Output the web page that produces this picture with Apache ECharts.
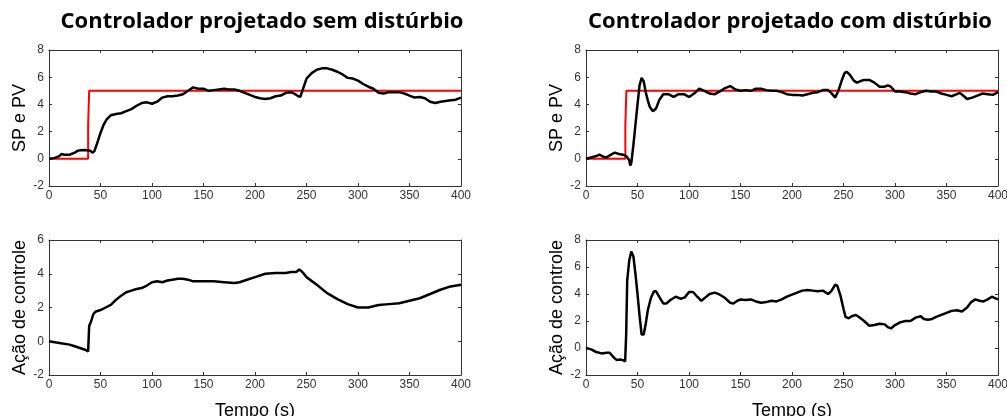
<!DOCTYPE html>
<html>
<head>
<meta charset="utf-8">
<script src="https://cdn.jsdelivr.net/npm/echarts@6/dist/echarts.min.js"></script>
<style>
  html, body { margin: 0; padding: 0; background: #fff; }
  #chart { width: 1007px; height: 416px; }
</style>
</head>
<body>
<div id="chart"></div>
<script>
// Setpoint step (shared shape for both runs)
const spT1 = [0, 38, 38, 39, 39, 400];
const spV1 = [0, 0, 2.5, 2.5, 5, 5];
const spT2 = [0, 38.2, 38.2, 39.2, 39.2, 400];
const spV2 = [0, 0, 2.5, 2.5, 5, 5];

// Process variable, controller without disturbance
const pvT1 = [0,5,10,12,15,20,25,28,30,35,40,42,44,47,50,53,56,60,65,70,75,80,85,90,95,100,105,110,115,120,125,130,135,140,145,150,155,160,165,170,175,180,185,190,195,200,205,210,215,220,225,230,235,238,242,244,246,250,255,260,265,270,275,280,285,290,295,300,305,310,315,320,325,330,335,340,345,350,355,360,365,370,375,380,385,390,395,400];
const pvV1 = [0,0.05,0.2,0.35,0.3,0.3,0.45,0.6,0.62,0.65,0.6,0.45,0.55,1.2,1.9,2.5,2.9,3.2,3.3,3.35,3.5,3.65,3.9,4.1,4.15,4.05,4.2,4.5,4.6,4.6,4.65,4.75,5.0,5.25,5.15,5.15,5.0,5.05,5.1,5.15,5.1,5.1,5.0,4.85,4.7,4.55,4.45,4.4,4.45,4.6,4.65,4.85,4.9,4.8,4.6,4.55,5.0,5.9,6.3,6.55,6.65,6.65,6.55,6.4,6.2,5.95,5.9,5.75,5.5,5.3,5.15,4.85,4.8,4.9,4.9,4.9,4.8,4.65,4.5,4.55,4.45,4.2,4.1,4.2,4.25,4.3,4.35,4.5];

// Control action, controller without disturbance
const uT1 = [0,10,20,25,30,35,38,39,41,43,45,50,55,60,65,70,75,80,85,90,95,100,105,110,115,120,125,130,135,140,150,160,170,180,185,190,200,210,220,230,235,240,243,246,250,260,270,280,290,300,310,320,330,340,350,360,370,380,390,400];
const uV1 = [0,-0.1,-0.2,-0.3,-0.4,-0.5,-0.6,0.9,1.2,1.6,1.75,1.85,2.0,2.15,2.45,2.7,2.9,3.0,3.1,3.15,3.3,3.5,3.55,3.5,3.6,3.65,3.7,3.7,3.65,3.55,3.55,3.55,3.5,3.45,3.5,3.6,3.8,4.0,4.05,4.05,4.1,4.1,4.25,4.1,3.8,3.35,2.85,2.5,2.2,2.0,2.0,2.15,2.2,2.25,2.4,2.55,2.8,3.05,3.25,3.35];

// Process variable, controller with disturbance
const pvT2 = [0,5,10,13,17,20,23,28,32,36,39,42,43,44,46,48,50,52,54,56,58,60,62,65,68,71,75,80,85,90,95,100,105,110,115,120,125,130,135,140,145,150,155,160,165,170,175,180,185,190,195,200,205,210,215,220,225,230,235,238,242,245,248,251,253,256,260,263,266,270,275,280,285,290,293,296,300,305,310,315,320,325,330,335,340,345,350,355,360,363,367,370,375,380,385,390,395,400];
const pvV2 = [0,0.1,0.2,0.3,0.15,0.1,0.25,0.45,0.35,0.3,0.2,-0.1,-0.5,-0.3,1.0,2.5,4.0,5.4,5.95,5.7,4.9,4.3,3.8,3.5,3.7,4.3,4.75,4.75,4.55,4.75,4.75,4.55,4.8,5.15,5.0,4.8,4.75,4.95,5.2,5.35,5.1,5.0,5.05,5.0,5.15,5.15,5.05,5.0,5.0,4.9,4.75,4.7,4.7,4.65,4.75,4.85,4.9,5.05,5.05,4.85,4.5,5.0,5.7,6.3,6.4,6.2,5.75,5.6,5.7,5.8,5.8,5.6,5.3,5.3,5.4,5.3,4.95,4.95,4.9,4.8,4.75,4.9,5.0,4.95,4.95,4.8,4.7,4.6,4.75,4.85,4.6,4.4,4.5,4.65,4.8,4.75,4.7,4.9];

// Control action, controller with disturbance
const uT2 = [0,5,10,15,20,23,27,30,33,36,38,39,40,42,44,46,48,50,52,54,56,58,60,63,66,68,71,75,78,82,87,92,96,100,104,108,112,116,120,125,130,135,140,143,147,150,155,160,165,170,175,180,185,190,195,200,205,210,215,220,225,230,235,238,242,244,247,250,252,255,258,262,265,270,275,280,285,290,293,296,300,305,310,315,320,325,328,332,336,340,345,350,355,360,365,370,374,378,382,386,390,394,397,400];
const uV2 = [0,-0.1,-0.3,-0.4,-0.35,-0.35,-0.7,-0.9,-0.85,-0.9,-1.0,1.0,5.0,6.5,7.15,6.8,5.5,4.0,2.4,1.0,1.0,1.8,2.8,3.7,4.2,4.2,3.8,3.3,3.3,3.55,3.8,3.65,3.75,4.15,4.15,3.8,3.5,3.75,4.0,4.1,3.95,3.7,3.35,3.3,3.5,3.6,3.55,3.6,3.45,3.35,3.4,3.5,3.45,3.6,3.8,3.95,4.1,4.25,4.3,4.25,4.2,4.25,4.0,4.2,4.7,4.6,3.9,2.9,2.3,2.2,2.35,2.45,2.3,2.0,1.65,1.7,1.8,1.75,1.55,1.45,1.7,1.9,2.0,2.0,2.25,2.35,2.15,2.1,2.15,2.3,2.45,2.6,2.75,2.8,2.7,3.0,3.4,3.6,3.5,3.45,3.6,3.8,3.7,3.6];

const zip = (t, v) => t.map((x, i) => [x, v[i]]);

const labelFont = { fontFamily: 'Liberation Sans, Arial, sans-serif', fontSize: 12, color: '#333' };
const nameFont = { fontFamily: 'Liberation Sans, Arial, sans-serif', fontSize: 18, color: '#000' };
const titleFont = { fontFamily: 'Open Sans, sans-serif', fontWeight: 'bold', fontSize: 22, color: '#000' };
const lineStyle = { color: '#333', width: 1 };

// Fixed panel rectangles; outer bounds handling is disabled so names never shrink them
const grids = [
  { left: 49, top: 50, width: 412, height: 136, outerBoundsMode: 'none', containLabel: false },
  { left: 49, top: 240, width: 412, height: 135, outerBoundsMode: 'none', containLabel: false },
  { left: 586, top: 50, width: 412, height: 136, outerBoundsMode: 'none', containLabel: false },
  { left: 586, top: 240, width: 412, height: 135, outerBoundsMode: 'none', containLabel: false }
];
const yRanges = [
  { min: -2, max: 8, name: 'SP e PV' },
  { min: -2, max: 6, name: 'Ação de controle' },
  { min: -2, max: 8, name: 'SP e PV' },
  { min: -2, max: 8, name: 'Ação de controle' }
];

// Each panel is boxed: labelled bottom/left axes plus bare top/right axes with inward ticks
const xAxes = [];
const yAxes = [];
grids.forEach((g, i) => {
  const bottom = i === 1 || i === 3;
  xAxes.push({
    type: 'value', gridIndex: i, min: 0, max: 400, interval: 50, position: 'bottom',
    name: bottom ? 'Tempo (s)' : '', nameLocation: 'middle', nameGap: 27, nameTextStyle: nameFont,
    axisLine: { show: true, onZero: false, lineStyle },
    axisTick: { show: true, inside: true, length: 3, lineStyle },
    axisLabel: Object.assign({ margin: 4 }, labelFont),
    splitLine: { show: false }
  });
  xAxes.push({
    type: 'value', gridIndex: i, min: 0, max: 400, interval: 50, position: 'top',
    axisLine: { show: true, onZero: false, lineStyle },
    axisTick: { show: true, inside: true, length: 3, lineStyle },
    axisLabel: { show: false }, splitLine: { show: false }
  });
  const r = yRanges[i];
  yAxes.push({
    type: 'value', gridIndex: i, min: r.min, max: r.max, interval: 2, position: 'left',
    name: r.name, nameLocation: 'middle', nameGap: 18, nameRotate: 90, nameTextStyle: nameFont,
    axisLine: { show: true, onZero: false, lineStyle },
    axisTick: { show: true, inside: true, length: 3, lineStyle },
    axisLabel: Object.assign({ margin: 5 }, labelFont),
    splitLine: { show: false }
  });
  yAxes.push({
    type: 'value', gridIndex: i, min: r.min, max: r.max, interval: 2, position: 'right',
    axisLine: { show: true, onZero: false, lineStyle },
    axisTick: { show: true, inside: true, length: 3, lineStyle },
    axisLabel: { show: false }, splitLine: { show: false }
  });
});

const line = (grid, data, color, width) => ({
  type: 'line', xAxisIndex: grid * 2, yAxisIndex: grid * 2, data,
  symbol: 'none', smooth: false, animation: false,
  lineStyle: { color, width }, itemStyle: { color }
});

const option = {
  animation: false,
  backgroundColor: '#fff',
  title: [
    { text: 'Controlador projetado sem distúrbio', left: 257, top: 6, textAlign: 'center', textStyle: titleFont },
    { text: 'Controlador projetado com distúrbio', left: 785, top: 6, textAlign: 'center', textStyle: titleFont }
  ],
  grid: grids,
  xAxis: xAxes,
  yAxis: yAxes,
  series: [
    line(0, zip(spT1, spV1), '#ff0000', 2),
    line(0, zip(pvT1, pvV1), '#000', 2.5),
    line(1, zip(uT1, uV1), '#000', 2.5),
    line(2, zip(spT2, spV2), '#ff0000', 2),
    line(2, zip(pvT2, pvV2), '#000', 2.5),
    line(3, zip(uT2, uV2), '#000', 2.5)
  ]
};

echarts.init(document.getElementById('chart'), null, { renderer: 'canvas' }).setOption(option);
</script>
</body>
</html>
